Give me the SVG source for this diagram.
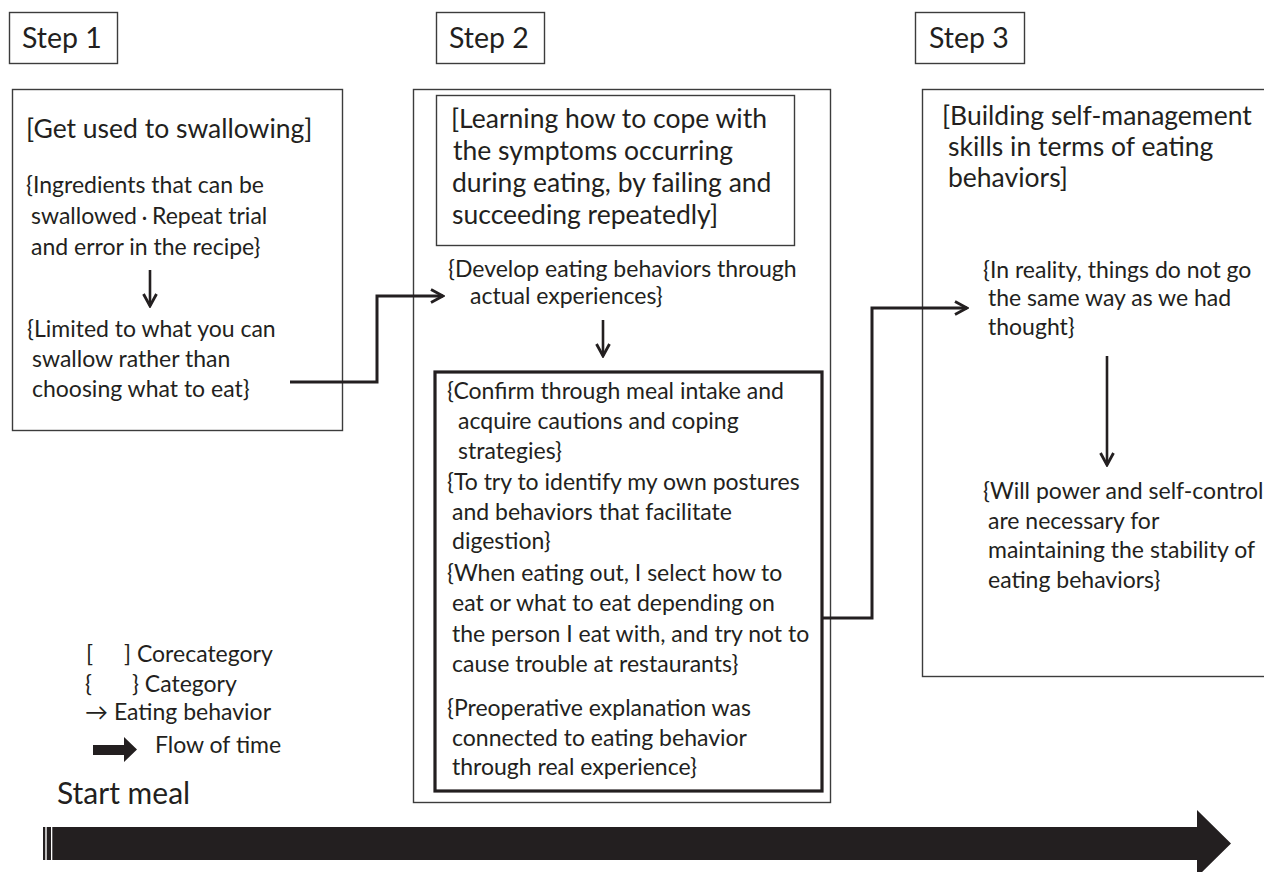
<svg xmlns="http://www.w3.org/2000/svg" width="1264" height="872" viewBox="0 0 1264 872">
<defs>
<style>
text{font-family:Lato,"Liberation Sans","Noto Sans CJK JP",sans-serif;fill:#231f20}
.step{font-size:28.5px}
.core{font-size:26.5px}
.cat{font-size:23px}
.leg{font-size:23px}
.big{font-size:30px}
.thin{fill:#fff;stroke:#3c3c3c;stroke-width:1.4}
.bold{fill:#fff;stroke:#231f20;stroke-width:3.2}
.conn{fill:none;stroke:#231f20;stroke-width:3;stroke-linejoin:miter}
.beh{fill:none;stroke:#231f20;stroke-width:2.6}
</style>
<marker id="chev" viewBox="0 0 16 16" refX="14" refY="8" markerWidth="16" markerHeight="16" markerUnits="userSpaceOnUse" orient="auto">
<path d="M2,1.5 L14,8 L2,14.5" fill="none" stroke="#231f20" stroke-width="2.8"/>
</marker>
</defs>
<rect width="1264" height="872" fill="#fff"/>

<g id="step1-label">
<rect class="thin" x="9.5" y="12.5" width="108" height="51"/>
<text class="step" x="22" y="48">Step 1</text>
</g>
<g id="step2-label">
<rect class="thin" x="436.5" y="12.5" width="108" height="51"/>
<text class="step" x="449" y="48">Step 2</text>
</g>
<g id="step3-label">
<rect class="thin" x="915.5" y="12.5" width="109" height="51"/>
<text class="step" x="929" y="48">Step 3</text>
</g>

<g id="step1">
<rect class="thin" x="12.5" y="89.5" width="330" height="341"/>
<text class="core" x="26" y="138">[Get used to swallowing]</text>
<text class="cat" x="26" y="193">{Ingredients that can be</text>
<text class="cat" x="31" y="224">swallowed<tspan font-size="15">・</tspan>Repeat trial</text>
<text class="cat" x="31" y="255">and error in the recipe}</text>
<line class="beh" x1="150" y1="270" x2="150" y2="306" marker-end="url(#chev)"/>
<text class="cat" x="27" y="337">{Limited to what you can</text>
<text class="cat" x="32" y="367">swallow rather than</text>
<text class="cat" x="32" y="397">choosing what to eat}</text>
</g>

<g id="step2">
<rect class="thin" x="413.5" y="89.5" width="417" height="713"/>
<rect class="thin" x="436.5" y="95.5" width="358" height="150"/>
<text class="core" x="451" y="128">[Learning how to cope with</text>
<text class="core" x="453" y="160">the symptoms occurring</text>
<text class="core" x="452" y="192">during eating, by failing and</text>
<text class="core" x="452" y="224">succeeding repeatedly]</text>
<text class="cat" x="448" y="277">{Develop eating behaviors through</text>
<text class="cat" x="470" y="304">actual experiences}</text>
<line class="beh" x1="603" y1="320" x2="603" y2="356" marker-end="url(#chev)"/>
</g>

<g id="step2-detail">
<rect class="bold" x="435" y="372" width="387" height="419"/>
<text class="cat" x="447" y="399">{Confirm through meal intake and</text>
<text class="cat" x="458" y="429">acquire cautions and coping</text>
<text class="cat" x="458" y="459">strategies}</text>
<text class="cat" x="447" y="490">{To try to identify my own postures</text>
<text class="cat" x="452" y="520">and behaviors that facilitate</text>
<text class="cat" x="452" y="549">digestion}</text>
<text class="cat" x="447" y="581">{When eating out, I select how to</text>
<text class="cat" x="452" y="611">eat or what to eat depending on</text>
<text class="cat" x="452" y="642">the person I eat with, and try not to</text>
<text class="cat" x="452" y="672">cause trouble at restaurants}</text>
<text class="cat" x="447" y="716">{Preoperative explanation was</text>
<text class="cat" x="452" y="746">connected to eating behavior</text>
<text class="cat" x="452" y="775">through real experience}</text>
</g>

<g id="step3">
<rect class="thin" x="922.5" y="89.5" width="400" height="587"/>
<text class="core" x="942" y="125">[Building self-management</text>
<text class="core" x="948" y="156">skills in terms of eating</text>
<text class="core" x="948" y="187">behaviors]</text>
<text class="cat" x="983" y="278">{In reality, things do not go</text>
<text class="cat" x="988" y="306">the same way as we had</text>
<text class="cat" x="988" y="335">thought}</text>
<line class="beh" x1="1107" y1="356" x2="1107" y2="465" marker-end="url(#chev)"/>
<text class="cat" x="983" y="499">{Will power and self-control</text>
<text class="cat" x="988" y="529">are necessary for</text>
<text class="cat" x="988" y="558">maintaining the stability of</text>
<text class="cat" x="988" y="588">eating behaviors}</text>
</g>

<g id="connectors">
<polyline class="conn" points="290,382 377,382 377,296 443,296" marker-end="url(#chev)"/>
<polyline class="conn" points="822,618 872,618 872,308 967,308" marker-end="url(#chev)"/>
</g>

<g id="legend">
<text class="leg" x="86" y="662">[</text>
<text class="leg" x="124" y="662">] Corecategory</text>
<text class="leg" x="85" y="692">{</text>
<text class="leg" x="132" y="692">} Category</text>
<text class="leg" x="85" y="720">→ Eating behavior</text>
<polygon points="93,745 124,745 124,737 137,749.5 124,762 124,755 93,755" fill="#231f20"/>
<text class="leg" x="155" y="753">Flow of time</text>
</g>

<g id="timeline">
<text class="big" x="57" y="804">Start meal</text>
<rect x="43" y="827" width="2.3" height="33" fill="#231f20"/>
<rect x="46.7" y="827" width="4.3" height="33" fill="#231f20"/>
<polygon points="52.3,827 1197,827 1197,810 1231,843.5 1197,877 1197,860 52.3,860" fill="#231f20"/>
</g>
</svg>
